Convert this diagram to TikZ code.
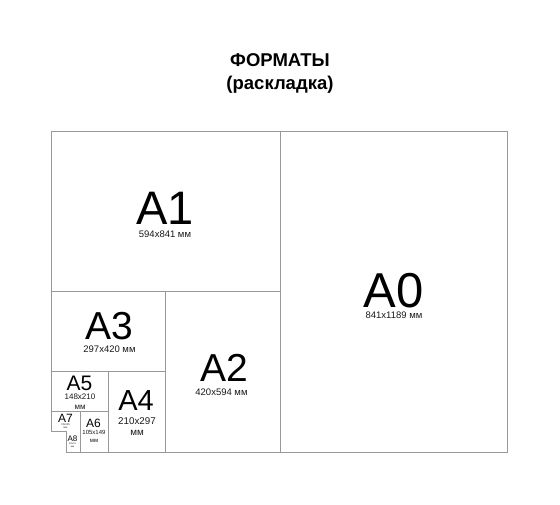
\documentclass[tikz,border=0pt]{standalone}
\usepackage{fontspec}
\setmainfont{Liberation Sans}
\newcommand{\setfsz}[1]{\fontsize{#1}{#1}\selectfont}
\begin{document}
\begin{tikzpicture}[x=1pt,y=-1pt,
  sheet/.style={draw=black!40,line width=1pt},
  big/.style={anchor=base,inner sep=0pt,text=black,text depth=0pt},
  dim/.style={anchor=base,inner sep=0pt,text=black!90,text depth=0pt}]
\useasboundingbox (0,0) rectangle (560,504);
\fill[white] (0,0) rectangle (560,504);
% outline and dividers
\draw[sheet] (66,452) -- (66,431.5) -- (51,431.5) -- (51,131.5) -- (507.5,131.5) -- (507.5,452) -- cycle;
\draw[sheet] (280,131.5) -- (280,452);
\draw[sheet] (51,291.5) -- (280,291.5);
\draw[sheet] (165,291.5) -- (165,452);
\draw[sheet] (51,371.7) -- (165,371.7);
\draw[sheet] (108,371.7) -- (108,452);
\draw[sheet] (51,411.7) -- (108,411.7);
\draw[sheet] (80,411.7) -- (80,452);
% title
\node[big] (t1) at (280,66.5) {\setfsz{18.5}\bfseries ФОРМАТЫ};
\node[big] (t2) at (280,89) {\setfsz{18.5}\bfseries (раскладка)};
% A0
\node[big] (a0) at (393.5,307.5) {\setfsz{49}A0};
\node[dim] (a0d) at (394,318) {\setfsz{9.5}841x1189 мм};
% A1
\node[big] (a1) at (165,224.5) {\setfsz{47}A1};
\node[dim] (a1d) at (165,237) {\setfsz{9.5}594x841 мм};
% A2
\node[big] (a2) at (224,381.2) {\setfsz{39}A2};
\node[dim] (a2d) at (221.5,395) {\setfsz{9.5}420x594 мм};
% A3
\node[big] (a3) at (109,339.5) {\setfsz{39}A3};
\node[dim] (a3d) at (109.5,352) {\setfsz{9.5}297x420 мм};
% A4
\node[big] (a4) at (136,410) {\setfsz{29}A4};
\node[dim] (a4d) at (137,424) {\setfsz{9.8}210x297};
\node[dim] (a4m) at (137,435) {\setfsz{9.8}мм};
% A5
\node[big] (a5) at (79.5,390) {\setfsz{21}A5};
\node[dim] (a5d) at (80,399.5) {\setfsz{8}148x210};
\node[dim] (a5m) at (80,409.5) {\setfsz{8}мм};
% A6
\node[big] (a6) at (93.5,427.5) {\setfsz{12}A6};
\node[dim] (a6d) at (94,434.5) {\setfsz{6}105x149};
\node[dim] (a6m) at (94,442.5) {\setfsz{6}мм};
% A7
\node[big] (a7) at (65.5,422) {\setfsz{12}A7};
\node[dim] (a7d) at (65.5,425.5) {\setfsz{2.6}74x105};
\node[dim] (a7m) at (65.5,428.8) {\setfsz{2.6}мм};
% A8
\node[big] (a8) at (72.5,441) {\setfsz{8}A8};
\node[dim] (a8d) at (72.5,444) {\setfsz{2.4}52x74};
\node[dim] (a8m) at (72.5,447.5) {\setfsz{2.4}мм};
\end{tikzpicture}
\end{document}
